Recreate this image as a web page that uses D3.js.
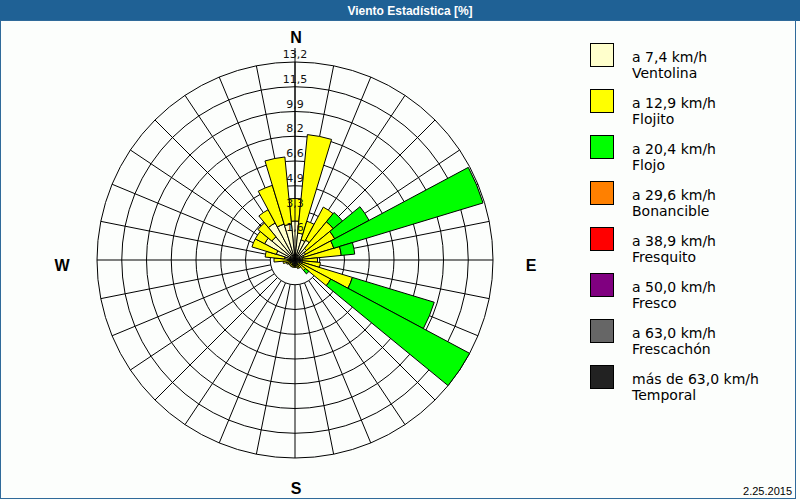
<!DOCTYPE html>
<html>
<head>
<meta charset="utf-8">
<script src="https://cdn.jsdelivr.net/npm/d3@7"></script>
<style>
  body { margin: 0; background: #fff; }
</style>
</head>
<body>
<div id="chart"></div>
<script>
// 32 compass directions, clockwise from north
const directions = ["N", "NbE", "NNE", "NEbN", "NE", "NEbE", "ENE", "EbN",
  "E", "EbS", "ESE", "SEbE", "SE", "SEbS", "SSE", "SbE",
  "S", "SbW", "SSW", "SWbS", "SW", "SWbW", "WSW", "WbS",
  "W", "WbN", "WNW", "NWbW", "NW", "NWbN", "NNW", "NbW"];

// percentage of time per direction and speed class
const ventolina = [2.6, 1.8, 1.4, 1.5, 1.0, 0.8, 0.6, 0.5,
  0.5, 0.5, 0.5, 0.4, 0.3, 0.3, 0.3, 0.3,
  0.3, 0.3, 0.3, 0.3, 0.3, 0.3, 0.3, 0.4,
  0.5, 0.7, 1.3, 2.3, 2.0, 2.8, 2.5, 2.4];
const flojito = [1.5, 6.6, 1.3, 2.5, 2.3, 2.2, 2.1, 2.6,
  1.0, 1.2, 3.5, 2.3, 0.6, 0.3, 0.3, 0.2,
  0.2, 0.2, 0.2, 0.2, 0.2, 0.2, 0.3, 0.4,
  0.9, 1.3, 1.7, 0.7, 1.2, 1.0, 2.7, 4.5];
const flojo = [0, 0, 0, 0, 0.8, 2.6, 10.4, 0.9,
  0, 0, 5.7, 10.5, 0.3, 0, 0, 0,
  0, 0, 0, 0, 0, 0, 0, 0,
  0, 0, 0, 0, 0, 0, 0, 0];

const tickValues = [1.65, 3.3, 4.95, 6.6, 8.25, 9.9, 11.55, 13.2];
const tickLabels = ["1,6", "3,3", "4,9", "6,6", "8,2", "9,9", "11,5", "13,2"];

const legendRanges = ["a 7,4 km/h", "a 12,9 km/h", "a 20,4 km/h", "a 29,6 km/h",
  "a 38,9 km/h", "a 50,0 km/h", "a 63,0 km/h", "más de 63,0 km/h"];
const legendNames = ["Ventolina", "Flojito", "Flojo", "Bonancible",
  "Fresquito", "Fresco", "Frescachón", "Temporal"];
const legendColors = ["#ffffcc", "#ffff00", "#00ff00", "#ff8000",
  "#ff0000", "#800080", "#666666", "#222222"];

const width = 800, height = 500;
const cx = 295, cy = 260, outerR = 198;

const svg = d3.select("#chart").append("svg")
  .attr("width", width)
  .attr("height", height)
  .style("font-family", "'Liberation Sans', Arial, sans-serif");

svg.append("rect").attr("width", width).attr("height", height).attr("fill", "#fcfefc");

// title bar
svg.append("rect").attr("x", 0).attr("y", 0).attr("width", width).attr("height", 21)
  .attr("fill", "#1f6195");
svg.append("text")
  .attr("x", 410).attr("y", 15)
  .attr("text-anchor", "middle")
  .attr("fill", "#fff")
  .attr("font-weight", "bold")
  .attr("font-size", 12)
  .text("Viento Estadística [%]");

// frame
svg.append("rect")
  .attr("x", 0.5).attr("y", 20.5).attr("width", 795).attr("height", 478)
  .attr("fill", "none").attr("stroke", "#2f6a9a");

const r = d3.scaleLinear().domain([0, 13.2]).range([0, outerR]);
const angle = d3.scaleBand().domain(directions).range([0, 2 * Math.PI]);
const half = angle.bandwidth() / 2;

const g = svg.append("g").attr("transform", `translate(${cx},${cy})`);

// rings
g.selectAll("circle.ring")
  .data(tickValues)
  .join("circle")
  .attr("class", "ring")
  .attr("r", d => r(d))
  .attr("fill", "none")
  .attr("stroke", "#000");

// spokes
g.selectAll("line.spoke")
  .data(directions)
  .join("line")
  .attr("class", "spoke")
  .attr("x1", d => Math.sin(angle(d)) * r(tickValues[0]))
  .attr("y1", d => -Math.cos(angle(d)) * r(tickValues[0]))
  .attr("x2", d => Math.sin(angle(d)) * outerR)
  .attr("y2", d => -Math.cos(angle(d)) * outerR)
  .attr("stroke", "#000");

// stacked wedges
const rows = directions.map((dir, i) => ({
  dir, ventolina: ventolina[i], flojito: flojito[i], flojo: flojo[i]
}));
const keys = ["ventolina", "flojito", "flojo"];
const stacked = d3.stack().keys(keys)(rows);

const arc = d3.arc()
  .innerRadius(d => r(d[0]))
  .outerRadius(d => r(d[1]))
  .startAngle(d => angle(d.data.dir) - half)
  .endAngle(d => angle(d.data.dir) + half);

g.selectAll("g.layer")
  .data(stacked)
  .join("g")
  .attr("class", "layer")
  .attr("fill", (d, i) => legendColors[i])
  .selectAll("path")
  .data(d => d.filter(s => s[1] - s[0] > 0))
  .join("path")
  .attr("d", arc)
  .attr("stroke", "#000")
  .attr("stroke-width", 1);

// north axis line over the bars
g.append("line")
  .attr("x1", 0).attr("y1", 0)
  .attr("x2", 0).attr("y2", -outerR - 14)
  .attr("stroke", "#000");

// ring labels along the north axis
g.selectAll("text.tick")
  .data(tickValues)
  .join("text")
  .attr("class", "tick")
  .attr("x", 0)
  .attr("y", d => -r(d) - 4)
  .attr("text-anchor", "middle")
  .attr("font-family", "'DejaVu Sans', sans-serif")
  .attr("font-size", 11)
  .attr("fill", "#111")
  .text((d, i) => tickLabels[i]);

// compass letters
const compass = [
  { t: "N", x: cx + 1, y: 43 },
  { t: "E", x: 531, y: 271 },
  { t: "S", x: cx + 1, y: 494 },
  { t: "W", x: 62, y: 271 }
];
svg.selectAll("text.compass")
  .data(compass)
  .join("text")
  .attr("class", "compass")
  .attr("x", d => d.x).attr("y", d => d.y)
  .attr("text-anchor", "middle")
  .attr("font-weight", "bold")
  .attr("font-size", 16)
  .attr("fill", "#000")
  .text(d => d.t);

// legend
const legend = svg.append("g").attr("font-family", "'DejaVu Sans', sans-serif");
const item = legend.selectAll("g")
  .data(legendColors)
  .join("g")
  .attr("transform", (d, i) => `translate(0,${i * 46})`);
item.append("rect")
  .attr("x", 590.5).attr("y", 43.5)
  .attr("width", 23).attr("height", 23)
  .attr("fill", d => d)
  .attr("stroke", "#000");
item.append("text")
  .attr("x", 632).attr("y", 62)
  .attr("font-size", 14)
  .attr("fill", "#000")
  .text((d, i) => legendRanges[i]);
item.append("text")
  .attr("x", 632).attr("y", 78)
  .attr("font-size", 14)
  .attr("fill", "#000")
  .text((d, i) => legendNames[i]);

// date
svg.append("text")
  .attr("x", 792).attr("y", 495)
  .attr("text-anchor", "end")
  .attr("font-size", 11)
  .attr("fill", "#000")
  .text("2.25.2015");
</script>
</body>
</html>
